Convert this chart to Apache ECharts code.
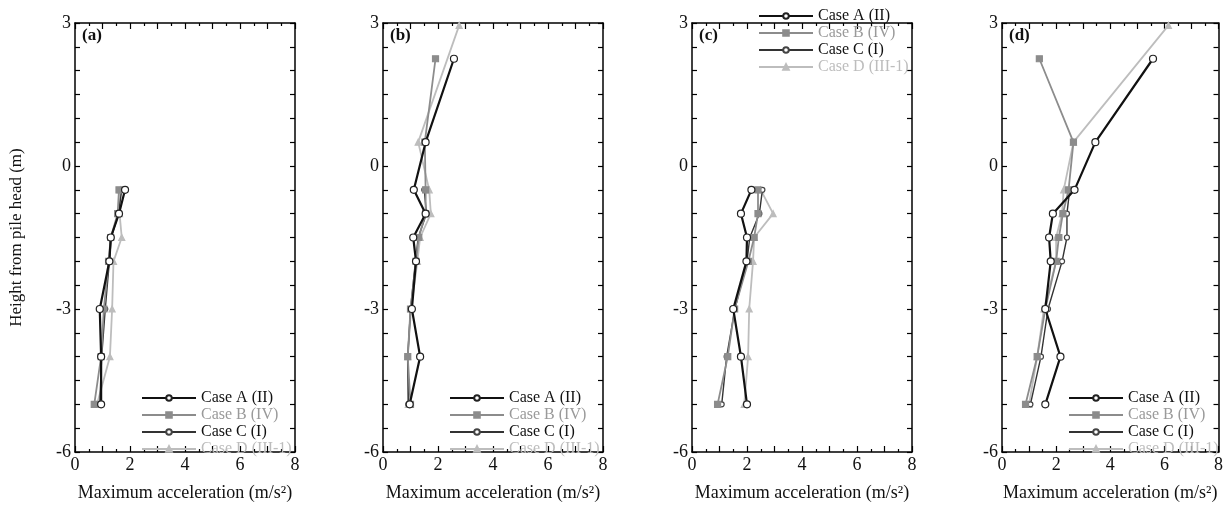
<!DOCTYPE html>
<html><head><meta charset="utf-8">
<script src="https://cdn.jsdelivr.net/npm/echarts@6/dist/echarts.min.js"></script>
<style>html,body{margin:0;padding:0;background:#fff}#c{width:1226px;height:507px}</style>
</head><body><div id="c"></div>
<script>
const caseNames = ['Case A (II)', 'Case B (IV)', 'Case C (I)', 'Case D (III-1)'];
const panelLabels = ['(a)', '(b)', '(c)', '(d)'];
const xTitle = 'Maximum acceleration (m/s\u00B2)';
const yTitle = 'Height from pile head (m)';

// heights (m)
const hLow = [-0.5, -1, -1.5, -2, -3, -4, -5];
const hUpAB = [2.25, 0.5, -0.5, -1, -1.5, -2, -3, -4, -5];
const hUpD = [2.95, 0.5, -0.5, -1, -1.5, -2, -3, -4, -5];

// panel (a)
const a_A = [1.82, 1.6, 1.3, 1.25, 0.9, 0.95, 0.95];
const a_B = [1.6, 1.55, 1.3, 1.22, 1.05, 0.95, 0.7];
const a_C = [1.7, 1.58, 1.32, 1.25, 1.1, 0.97, 0.9];
const a_D = [1.65, 1.62, 1.7, 1.4, 1.35, 1.27, 0.8];
// panel (b)
const b_A = [2.58, 1.55, 1.12, 1.55, 1.1, 1.2, 1.05, 1.35, 0.97];
const b_B = [1.91, 1.52, 1.55, 1.55, 1.3, 1.2, 1.0, 0.9, 1.0];
const b_C = [1.5, 1.58, 1.28, 1.18, 1.0, 0.9, 0.92];
const b_D = [2.77, 1.28, 1.68, 1.74, 1.35, 1.25, 1.02, 0.9, 0.92];
// panel (c)
const c_A = [2.16, 1.78, 2.0, 1.98, 1.5, 1.78, 2.0];
const c_B = [2.4, 2.4, 2.26, 2.05, 1.55, 1.3, 0.93];
const c_C = [2.56, 2.45, 2.1, 2.0, 1.56, 1.26, 1.08];
const c_D = [2.5, 2.95, 2.26, 2.22, 2.08, 2.04, 1.9];
// panel (d)
const d_A = [5.58, 3.45, 2.68, 1.88, 1.74, 1.8, 1.6, 2.16, 1.6];
const d_B = [1.38, 2.64, 2.46, 2.25, 2.1, 2.0, 1.6, 1.3, 0.87];
const d_C = [2.5, 2.4, 2.4, 2.22, 1.7, 1.44, 1.05];
const d_D = [6.15, 2.64, 2.28, 2.22, 2.0, 2.0, 1.55, 1.3, 1.0];

const panels = [
  [[a_A, hLow], [a_B, hLow], [a_C, hLow], [a_D, hLow]],
  [[b_A, hUpAB], [b_B, hUpAB], [b_C, hLow], [b_D, hUpD]],
  [[c_A, hLow], [c_B, hLow], [c_C, hLow], [c_D, hLow]],
  [[d_A, hUpAB], [d_B, hUpAB], [d_C, hLow], [d_D, hUpD]]
];

const FONT = 'Liberation Serif';
const gridLefts = [75, 383, 692, 1002];
const gridW = 220, gridT = 23, gridH = 439;
const legendPos = [[141, 390], [449, 390], [758, 8], [1068, 390]];

const styles = [
  {color: '#111', width: 2.2, symbol: 'circle', size: 7, fill: '#fff', border: '#222', text: '#111'},
  {color: '#8c8c8c', width: 1.8, symbol: 'rect', size: 6, fill: '#8c8c8c', border: '#8c8c8c', text: '#9a9a9a'},
  {color: '#333', width: 1.4, symbol: 'circle', size: 5, fill: '#fff', border: '#444', text: '#111'},
  {color: '#bdbdbd', width: 1.8, symbol: 'triangle', size: 6, fill: '#bdbdbd', border: '#bdbdbd', text: '#bdbdbd'}
];

const grid = [], xAxis = [], yAxis = [], series = [], legend = [], graphic = [];
const axisLine = {show: true, onZero: false, lineStyle: {color: '#000', width: 1.5}};

panels.forEach((p, i) => {
  grid.push({left: gridLefts[i], top: gridT, width: gridW, height: gridH});
  xAxis.push({
    type: 'value', gridIndex: i, min: 0, max: 8, interval: 1, position: 'bottom',
    axisLine: axisLine,
    axisTick: {show: true, inside: true, length: 6, lineStyle: {color: '#000', width: 1.2}},
    minorTick: {show: true, splitNumber: 2, length: 3, lineStyle: {color: '#000', width: 1.2}},
    splitLine: {show: false},
    axisLabel: {color: '#111', fontFamily: FONT, fontSize: 18, margin: 4,
      formatter: v => (v % 2 === 0 ? String(v) : '')},
    name: xTitle, nameLocation: 'middle', nameGap: 32,
    nameTextStyle: {color: '#111', fontFamily: FONT, fontSize: 18}
  });
  xAxis.push({
    type: 'value', gridIndex: i, min: 0, max: 8, interval: 1, position: 'top',
    axisLine: axisLine,
    axisTick: {show: true, inside: true, length: 6, lineStyle: {color: '#000', width: 1.2}},
    minorTick: {show: true, splitNumber: 2, length: 3, lineStyle: {color: '#000', width: 1.2}},
    splitLine: {show: false}, axisLabel: {show: false}
  });
  yAxis.push({
    type: 'value', gridIndex: i, min: -6, max: 3, interval: 3, position: 'left',
    axisLine: axisLine,
    axisTick: {show: true, inside: true, length: 5, lineStyle: {color: '#000', width: 1.2}},
    minorTick: {show: true, splitNumber: 6, length: 5, lineStyle: {color: '#000', width: 1.2}},
    splitLine: {show: false},
    axisLabel: {color: '#111', fontFamily: FONT, fontSize: 18, margin: 4},
    name: i === 0 ? yTitle : '', nameLocation: 'middle', nameGap: 50,
    nameTextStyle: {color: '#111', fontFamily: FONT, fontSize: 17}
  });
  yAxis.push({
    type: 'value', gridIndex: i, min: -6, max: 3, interval: 3, position: 'right',
    axisLine: axisLine,
    axisTick: {show: true, inside: true, length: 5, lineStyle: {color: '#000', width: 1.2}},
    minorTick: {show: true, splitNumber: 6, length: 5, lineStyle: {color: '#000', width: 1.2}},
    splitLine: {show: false}, axisLabel: {show: false}
  });

  p.forEach((pair, k) => {
    const vals = pair[0], hs = pair[1], s = styles[k];
    series.push({
      name: caseNames[k], type: 'line',
      xAxisIndex: i * 2, yAxisIndex: i * 2,
      data: vals.map((v, j) => [v, hs[j]]),
      symbol: s.symbol, symbolSize: s.size, showAllSymbol: true,
      lineStyle: {color: s.color, width: s.width},
      itemStyle: {color: s.fill, borderColor: s.border, borderWidth: 1.2},
      z: 10 - k, animation: false
    });
  });

  legend.push({
    orient: 'vertical', left: legendPos[i][0], top: legendPos[i][1],
    itemWidth: 54, itemHeight: 7, itemGap: 1, itemTextGap: 6,
    selectedMode: false, padding: 0,
    textStyle: {fontFamily: FONT, fontSize: 16},
    data: caseNames.map((n, k) => ({name: n, textStyle: {color: styles[k].text}}))
  });

  graphic.push({
    type: 'text', left: gridLefts[i] + 7, top: 27,
    style: {text: panelLabels[i], font: 'bold 17px "Liberation Serif"', fill: '#111'}
  });
});

const chart = echarts.init(document.getElementById('c'), null, {renderer: 'canvas'});
chart.setOption({backgroundColor: '#fff', animation: false, grid, xAxis, yAxis, series, legend, graphic});
</script></body></html>
